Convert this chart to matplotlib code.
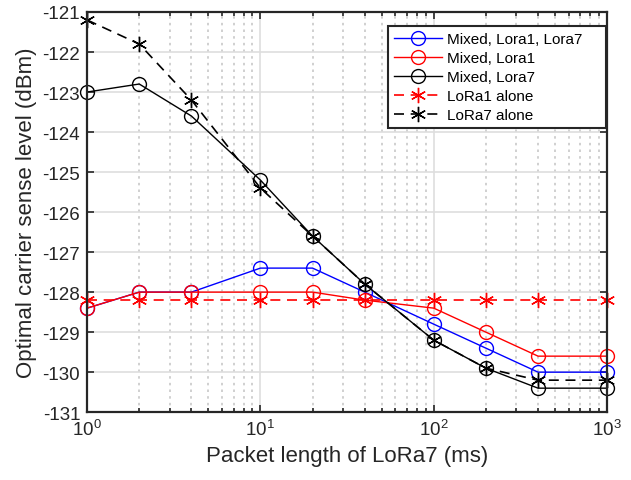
import matplotlib
matplotlib.use("Agg")
import matplotlib.pyplot as plt
from matplotlib.ticker import LogLocator, NullFormatter, FixedLocator

plt.rcParams['font.family'] = ['Liberation Sans', 'DejaVu Sans']
plt.rcParams['axes.unicode_minus'] = False

packet_len = [1, 2, 4, 10, 20, 40, 100, 200, 400, 1000]
mixed_both = [-128.4, -128.0, -128.0, -127.4, -127.4, -128.0, -128.8, -129.4, -130.0, -130.0]
mixed_lora1 = [-128.4, -128.0, -128.0, -128.0, -128.0, -128.2, -128.4, -129.0, -129.6, -129.6]
mixed_lora7 = [-123.0, -122.8, -123.6, -125.2, -126.6, -127.8, -129.2, -129.9, -130.4, -130.4]
lora1_alone = [-128.2] * 10
lora7_alone = [-121.2, -121.8, -123.2, -125.4, -126.6, -127.8, -129.2, -129.9, -130.2, -130.2]

y_ticks = list(range(-131, -120))

fig = plt.figure(figsize=(6.31, 4.81), dpi=100)
ax = fig.add_axes([0.138, 0.141, 0.824, 0.832])

circ = dict(marker='o', markersize=10, markerfacecolor='none', markeredgewidth=1.0,
            linewidth=1.0, clip_on=False)
star = dict(marker=(6, 2, 0), markersize=11, markeredgewidth=1.0, linewidth=1.2,
            linestyle=(0, (6, 4)), clip_on=False)

ax.plot(packet_len, mixed_both, color='#0000ff', label='Mixed, Lora1, Lora7', **circ)
ax.plot(packet_len, mixed_lora1, color='#ff0000', label='Mixed, Lora1', **circ)
ax.plot(packet_len, mixed_lora7, color='black', label='Mixed, Lora7', **circ)
ax.plot(packet_len, lora1_alone, color='#ff0000', label='LoRa1 alone', **star)
ax.plot(packet_len, lora7_alone, color='black', label='LoRa7 alone', **star)

ax.set_xscale('log')
ax.set_xlim(1, 1000)
ax.set_ylim(-131, -121)
ax.yaxis.set_major_locator(FixedLocator(y_ticks))
ax.xaxis.set_major_locator(LogLocator(base=10, numticks=10))
ax.xaxis.set_minor_locator(LogLocator(base=10, subs=range(2, 10), numticks=20))
ax.xaxis.set_minor_formatter(NullFormatter())

ax.grid(True, which='major', color='#dedede', linewidth=1.2, linestyle='-')
ax.grid(True, which='minor', axis='x', color='#c8c8c8', linewidth=1.2, linestyle=(0, (1.5, 2.5)))
ax.set_axisbelow(True)

ax.tick_params(which='both', direction='in', top=True, right=True, labelsize=13.5,
               colors='#262626', width=1.2)
ax.tick_params(which='major', length=5, pad=5)
ax.tick_params(which='minor', length=3)
for s in ax.spines.values():
    s.set_linewidth(1.6)
    s.set_color('#262626')

ax.set_xlabel('Packet length of LoRa7 (ms)', fontsize=16, color='#262626', labelpad=4)
ax.set_ylabel('Optimal carrier sense level (dBm)', fontsize=16, color='#262626', labelpad=4)

leg = ax.legend(loc='upper right', bbox_to_anchor=(0.579, 0.5, 0.419, 0.465), mode='expand',
                fontsize=11, handlelength=3.1, handletextpad=0.33, borderpad=0.4,
                labelspacing=0.33, fancybox=False, framealpha=1, edgecolor='#262626',
                borderaxespad=0)
leg.get_frame().set_linewidth(1.5)

fig.savefig('out.png', dpi=100)
